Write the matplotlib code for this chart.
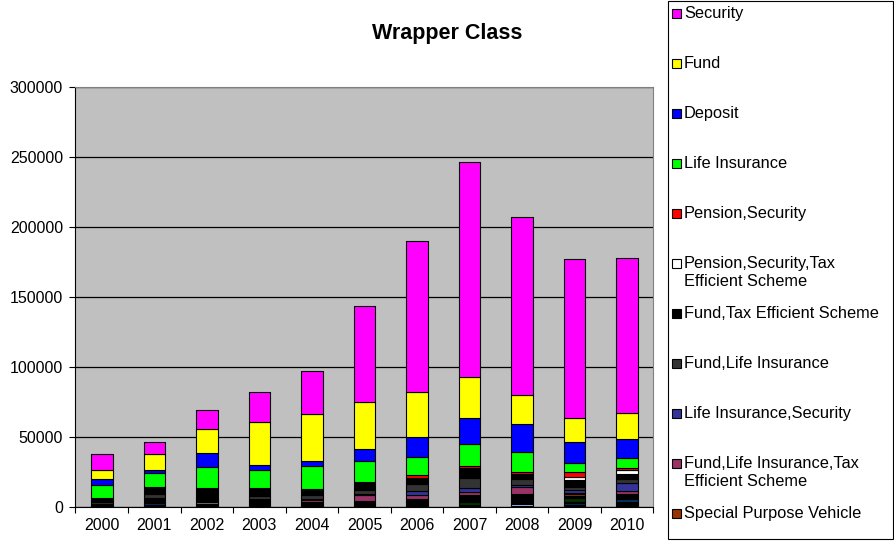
import matplotlib.pyplot as plt
from matplotlib.patches import Rectangle
import numpy as np

plt.rcParams['font.family'] = ['Liberation Sans', 'DejaVu Sans']

years = ['2000', '2001', '2002', '2003', '2004', '2005', '2006', '2007', '2008', '2009', '2010']

# values per wrapper class, in stacking order from the bottom up
k0       = [1.0, 2.0, 2.0, 1.0, 1.0, 1.2, 1.5, 1.0, 0.9, 2.0, 3.6]
lightblue = [0, 0, 0, 0, 0, 0, 0, 0, 1.4, 0, 0]
navy     = [0.2, 0.9, 0.5, 0.3, 0.4, 0.5, 0.7, 0.3, 0.5, 0.8, 2.4]
grey2    = [0, 1.1, 1.0, 0.2, 0.3, 0.3, 0.4, 0.2, 0.3, 0.4, 0.3]
olive    = [0.2, 0.4, 0.5, 0.4, 0.4, 0.4, 0.5, 0.4, 0.4, 0.8, 0.4]
dgreen   = [0.2, 0.4, 0.6, 0.8, 0.6, 0.8, 1.0, 1.6, 1.2, 2.4, 1.0]
k1       = [0.4, 0.4, 0.8, 1.2, 0.6, 0.7, 1.2, 4.3, 4.0, 1.4, 1.2]
spv      = [0.1, 0.3, 0.4, 0.6, 0.5, 0.6, 0.8, 1.0, 0.7, 1.5, 0.5]
flites   = [0.3, 0.4, 0.5, 0.6, 1.4, 4.1, 2.9, 2.4, 5.2, 0.9, 2.6]
lis      = [0.2, 0.5, 0.4, 0.6, 0.9, 0.9, 2.6, 2.4, 1.2, 2.1, 5.4]
fli      = [0.9, 3.1, 0.5, 2.4, 2.6, 3.1, 5.0, 7.6, 4.1, 2.1, 3.1]
ftes     = [3.4, 4.8, 6.6, 5.9, 4.5, 5.2, 4.3, 7.1, 3.6, 5.1, 3.6]
pstes    = [0, 0, 0, 0, 0, 0, 0, 0, 0, 2.4, 2.4]
pension  = [0, 0, 0, 0, 0, 0, 1.9, 1.4, 1.9, 3.1, 1.4]
life     = [9.3, 10.4, 15.0, 12.6, 16.4, 15.2, 12.9, 15.5, 14.3, 6.6, 7.1]
deposit  = [4.0, 1.9, 10.0, 3.8, 3.8, 8.6, 14.3, 18.6, 20.0, 15.4, 13.8]
fund     = [6.2, 11.4, 16.9, 30.7, 33.4, 33.8, 32.1, 29.5, 20.2, 16.6, 18.4]
security = [11.4, 8.6, 13.8, 21.0, 30.9, 68.3, 107.9, 153.1, 127.4, 114.0, 111.1]

series = [
    (k0, '#000000', None),
    (lightblue, '#99CCFF', None),
    (navy, '#003366', None),
    (grey2, '#808080', None),
    (olive, '#666600', None),
    (dgreen, '#003300', None),
    (k1, '#000000', None),
    (spv, '#993300', 'Special Purpose Vehicle'),
    (flites, '#993366', 'Fund,Life Insurance,Tax\nEfficient Scheme'),
    (lis, '#333399', 'Life Insurance,Security'),
    (fli, '#333333', 'Fund,Life Insurance'),
    (ftes, '#000000', 'Fund,Tax Efficient Scheme'),
    (pstes, '#FFFFFF', 'Pension,Security,Tax\nEfficient Scheme'),
    (pension, '#FF0000', 'Pension,Security'),
    (life, '#00FF00', 'Life Insurance'),
    (deposit, '#0000FF', 'Deposit'),
    (fund, '#FFFF00', 'Fund'),
    (security, '#FF00FF', 'Security'),
]

fig = plt.figure(figsize=(8.95, 5.42), dpi=100)
ax = fig.add_axes([75.5 / 895, 1 - 507.3 / 542, 578 / 895, 420 / 542])
ax.set_facecolor('#C0C0C0')

x = np.arange(len(years))
bottom = np.zeros(len(years))
for vals, color, label in series:
    v = np.array(vals) * 1000
    ax.bar(x, v, 0.41, bottom=bottom, color=color, edgecolor='black', linewidth=0.8, zorder=3)
    bottom += v

ax.set_xlim(-0.5, len(years) - 0.5)
ax.set_ylim(0, 300000)
ax.set_yticks(np.arange(0, 300001, 50000))
ax.yaxis.grid(True, color='black', linewidth=0.9, zorder=1)
ax.tick_params(axis='y', length=4, width=0.8, pad=5, labelsize=11.5)

ax.set_xticks(x)
ax.set_xticklabels(years)
ax.set_xticks(np.arange(-0.5, len(years)), minor=True)
ax.tick_params(axis='x', which='major', length=0, pad=8, labelsize=11.5)
ax.tick_params(axis='x', which='minor', length=4, width=0.8)

for s in ['top', 'right']:
    ax.spines[s].set_color('#808080')
for s in ['left', 'bottom']:
    ax.spines[s].set_color('black')
    ax.spines[s].set_linewidth(0.8)

fig.text(447 / 895, 1 - 33 / 542, 'Wrapper Class', ha='center', va='center',
         fontsize=15.5, fontweight='bold')

# legend box on the right, entries 50 px apart
W, H = 895, 542
fig.patches.append(Rectangle((668 / W, 1 - 539 / H), 225 / W, 538 / H, transform=fig.transFigure,
                             facecolor='white', edgecolor='black', linewidth=0.8))
entries = [(c, l) for _, c, l in series if l is not None][::-1]
for i, (color, label) in enumerate(entries):
    yc = 13 + 50 * i
    fig.patches.append(Rectangle((672 / W, 1 - (yc + 4.5) / H), 9 / W, 9 / H, transform=fig.transFigure,
                                 facecolor=color, edgecolor='black', linewidth=0.8))
    fig.text(684 / W, 1 - (yc - 7) / H, label, ha='left', va='top', fontsize=11.8, linespacing=1.22)

fig.savefig('out.png', dpi=100)
